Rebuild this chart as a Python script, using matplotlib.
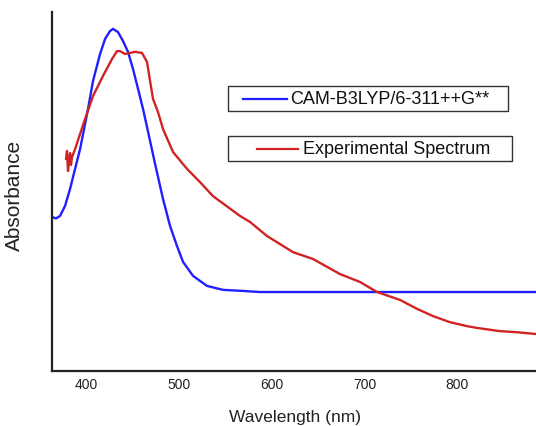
import matplotlib
matplotlib.use("Agg")
import matplotlib.pyplot as plt
from matplotlib.patches import Rectangle
from matplotlib.lines import Line2D

plt.rcParams["font.family"] = ["Liberation Sans", "DejaVu Sans"]

# ---------- data (nm, arbitrary absorbance) ----------
calc_nm = [362.5, 366.8, 371.2, 376.6, 382.0, 387.4, 392.8, 398.2, 401.4, 406.8,
           414.4, 419.8, 425.2, 428.4, 433.8, 439.2, 444.6, 450.0, 455.4, 460.8,
           465.1, 473.8, 482.4, 490.0, 497.5, 504.0, 514.8, 529.9, 547.2, 568.8,
           587.1, 885.2]
calc_abs = [0.429, 0.425, 0.432, 0.460, 0.507, 0.563, 0.618, 0.688, 0.730, 0.808,
            0.883, 0.925, 0.947, 0.953, 0.944, 0.919, 0.889, 0.841, 0.786, 0.730,
            0.680, 0.577, 0.479, 0.404, 0.348, 0.304, 0.265, 0.237, 0.226, 0.223,
            0.220, 0.220]

exp_nm = [377.7, 378.7, 379.8, 380.9, 382.0, 383.0, 384.1, 387.4, 392.8, 398.2,
          406.8, 417.6, 427.3, 432.7, 436.0, 441.4, 446.8, 452.2, 459.7, 465.1,
          468.4, 471.6, 477.0, 482.4, 493.2, 508.3, 522.4, 536.4, 565.5, 576.4,
          594.7, 622.8, 644.4, 673.5, 695.1, 713.5, 738.3, 756.8, 773.9, 792.3,
          810.6, 821.4, 846.3, 864.7, 885.2]
exp_abs = [0.591, 0.613, 0.557, 0.585, 0.607, 0.574, 0.596, 0.618, 0.660, 0.702,
           0.766, 0.822, 0.869, 0.891, 0.891, 0.883, 0.886, 0.889, 0.886, 0.861,
           0.808, 0.758, 0.721, 0.674, 0.610, 0.563, 0.526, 0.487, 0.432, 0.415,
           0.376, 0.331, 0.312, 0.270, 0.248, 0.220, 0.198, 0.173, 0.153, 0.136,
           0.125, 0.120, 0.111, 0.108, 0.103]

xticks = [400, 500, 600, 700, 800]
calc_label = "CAM-B3LYP/6-311++G**"
exp_label = "Experimental Spectrum"

BLUE = "#1f1fff"
RED = "#d02424"
W, H = 536, 427

fig = plt.figure(figsize=(W / 100, H / 100), dpi=100)
ax = fig.add_axes([52 / W, 1 - 372 / H, 484 / W, 359 / H])

ax.plot(calc_nm, calc_abs, color=BLUE, lw=1.7, solid_joinstyle="round")
ax.plot(exp_nm, exp_abs, color=RED, lw=1.7, solid_joinstyle="round")

ax.set_xlim(362.5, 885.2)
ax.set_ylim(0, 1)
ax.set_xticks(xticks)
ax.set_yticks([])
ax.tick_params(axis="x", length=0, pad=4, labelsize=10, labelcolor="#222222")
for s in ["top", "right"]:
    ax.spines[s].set_visible(False)
for s in ["left", "bottom"]:
    ax.spines[s].set_color("#222222")
    ax.spines[s].set_linewidth(1.6)

ax.set_xlabel("Wavelength (nm)", fontsize=12.5, color="#222222")
ax.xaxis.set_label_coords(0.502, -0.106)
ax.set_ylabel("Absorbance", fontsize=15, color="#222222")
ax.yaxis.set_label_coords(-0.058, 0.493)


# ---------- two separate legend boxes (pixel coords, origin top-left) ----------
def px(x, y):
    return x / W, 1 - y / H


def legend_box(x0, y0, x1, y1, lx0, lx1, tx, color, label):
    fx, fy = px(x0, y1)
    fig.patches.append(Rectangle((fx, fy), (x1 - x0) / W, (y1 - y0) / H,
                                 transform=fig.transFigure, fill=False,
                                 edgecolor="#333333", lw=1.0))
    ym = (y0 + y1) / 2
    a, b = px(lx0, ym)
    c, _ = px(lx1, ym)
    fig.lines.append(Line2D([a, c], [b, b], transform=fig.transFigure,
                            color=color, lw=1.6))
    tx_, ty_ = px(tx, ym + 0.5)
    fig.text(tx_, ty_, label, fontsize=13, va="center", ha="left", color="#111111")


legend_box(228, 87, 508, 112, 243, 287, 290, BLUE, calc_label)
legend_box(228, 137, 512, 162, 257, 298, 303, RED, exp_label)

fig.savefig("out.png", dpi=100)
